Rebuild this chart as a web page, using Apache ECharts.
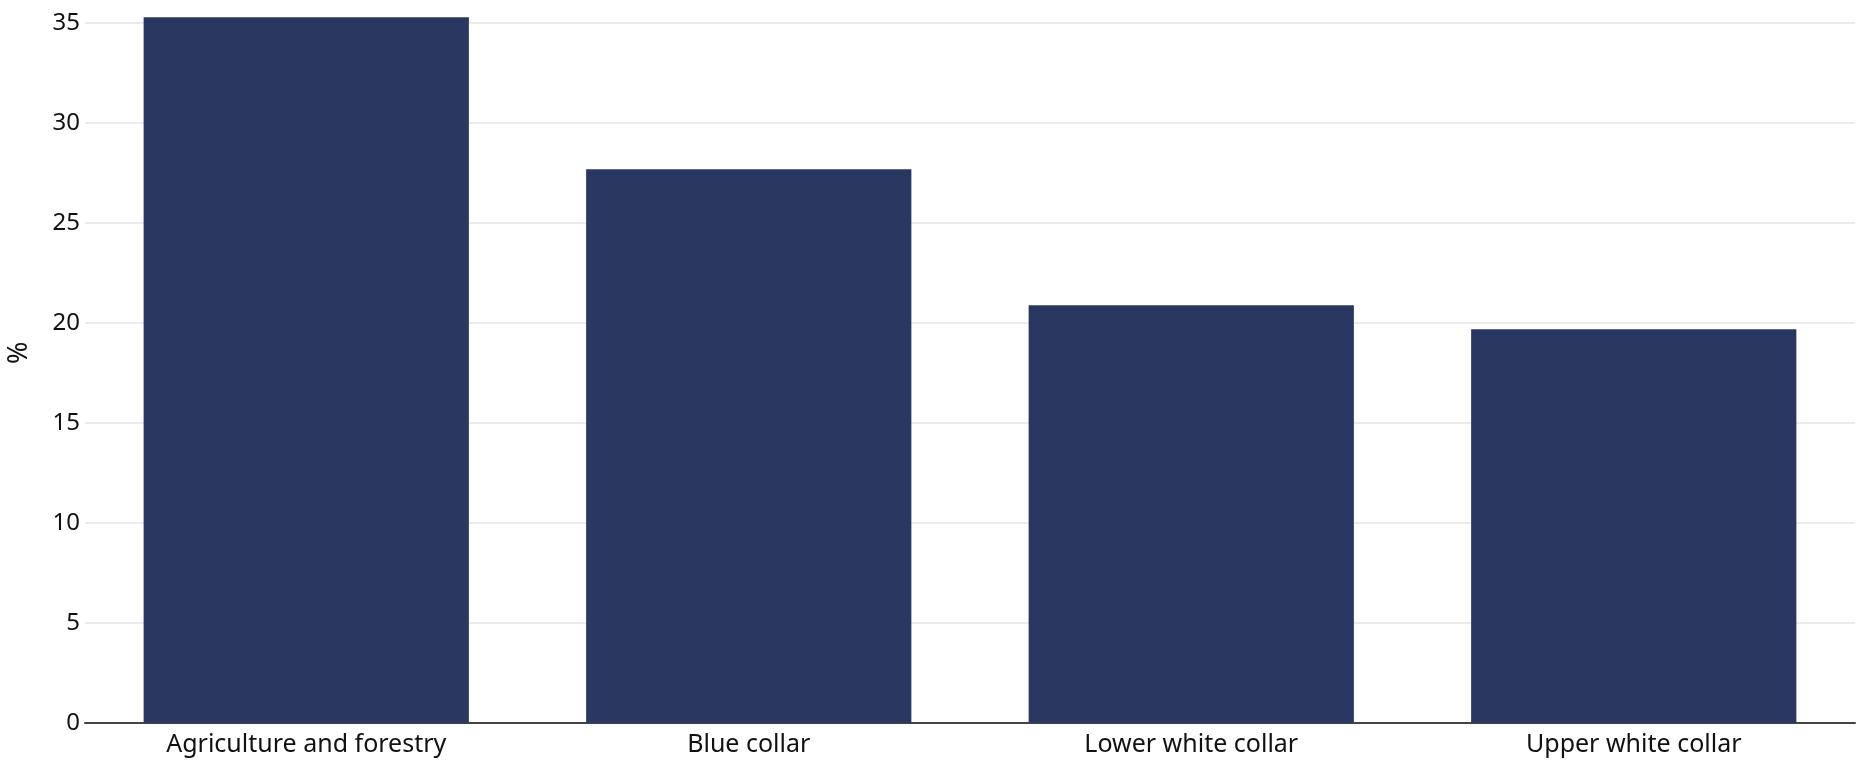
<!DOCTYPE html>
<html>
<head>
<meta charset="utf-8">
<script src="https://cdn.jsdelivr.net/npm/echarts@6/dist/echarts.min.js"></script>
<style>
html,body{margin:0;padding:0;background:#fff;}
#c{width:1857px;height:765px;}
</style>
</head>
<body>
<div id="c"></div>
<script>
const categories = ["Agriculture and forestry", "Blue collar", "Lower white collar", "Upper white collar"];
const values = [35.27, 27.67, 20.87, 19.67];
const yTicks = [0, 5, 10, 15, 20, 25, 30, 35];

const FONT = "Noto Sans";
const chart = echarts.init(document.getElementById('c'));
chart.setOption({
  animation: false,
  grid: {left: 85, right: 2, top: 22.7, bottom: 42.3, containLabel: false, outerBoundsMode: 'none'},
  xAxis: {
    type: 'category',
    data: categories,
    axisLine: {lineStyle: {color: '#444', width: 2}},
    axisTick: {show: false},
    axisLabel: {color: '#111', fontFamily: FONT, fontSize: 25, margin: 10}
  },
  yAxis: {
    type: 'value',
    min: yTicks[0],
    max: yTicks[yTicks.length - 1],
    interval: 5,
    name: '%',
    nameLocation: 'middle',
    nameGap: 52,
    nameTextStyle: {color: '#111', fontFamily: FONT, fontSize: 27, padding: [0, 0, 0, 40]},
    axisLine: {show: false},
    axisTick: {show: false},
    axisLabel: {color: '#111', fontFamily: FONT, fontSize: 24, margin: 5},
    splitLine: {lineStyle: {color: '#ebebeb', width: 2}}
  },
  series: [{
    type: 'bar',
    data: values,
    clip: false,
    barCategoryGap: '26.5%',
    itemStyle: {color: '#2a3761'}
  }]
});
</script>
</body>
</html>
